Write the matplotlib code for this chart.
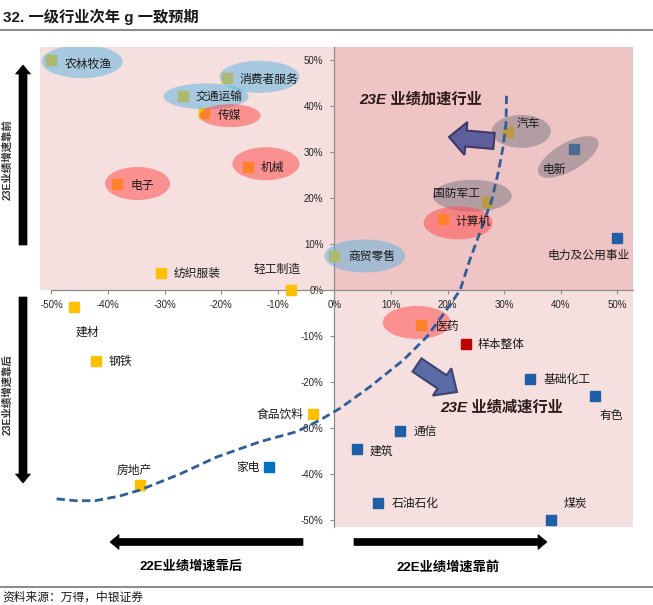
import matplotlib
matplotlib.use('Agg')
import matplotlib.pyplot as plt
import matplotlib.patches as mpatches
import matplotlib.transforms as mtransforms

plt.rcParams['font.family'] = ['Liberation Sans', 'Noto Sans CJK SC', 'DejaVu Sans']
plt.rcParams['axes.unicode_minus'] = False

# industries: x = 22E growth position, y = 23E growth position
names = ['农林牧渔', '消费者服务', '交通运输', '传媒', '机械', '电子', '纺织服装', '轻工制造',
         '商贸零售', '汽车', '电新', '国防军工', '计算机', '电力及公用事业',
         '建材', '钢铁', '食品饮料', '房地产', '家电',
         '医药', '样本整体', '基础化工', '有色', '通信', '建筑', '石油石化', '煤炭']
g22 = [-0.500, -0.190, -0.268, -0.231, -0.153, -0.384, -0.307, -0.077,
       0.000, 0.307, 0.423, 0.269, 0.192, 0.499,
       -0.460, -0.421, -0.038, -0.344, -0.115,
       0.153, 0.232, 0.345, 0.460, 0.116, 0.039, 0.077, 0.383]
g23 = [0.500, 0.460, 0.422, 0.385, 0.268, 0.230, 0.038, 0.000,
       0.074, 0.344, 0.307, 0.192, 0.154, 0.114,
       -0.038, -0.155, -0.270, -0.424, -0.384,
       -0.077, -0.117, -0.193, -0.230, -0.307, -0.346, -0.462, -0.500]
kind = ['y', 'y', 'y', 'y', 'y', 'y', 'y', 'y',
        'y', 'y', 'b', 'y', 'y', 'b',
        'y', 'y', 'y', 'y', 'c',
        'y', 'r', 'b', 'b', 'b', 'b', 'b', 'b']

# dividing curve
curve_x = [-0.491, -0.458, -0.423, -0.380, -0.344, -0.273, -0.208, -0.132, -0.067, -0.026,
           0.010, 0.063, 0.122, 0.163, 0.198, 0.222, 0.239, 0.263, 0.278, 0.289, 0.298, 0.303, 0.304]
curve_y = [-0.454, -0.458, -0.458, -0.448, -0.435, -0.400, -0.363, -0.330, -0.308, -0.283,
           -0.257, -0.210, -0.152, -0.102, -0.043, 0.000, 0.065, 0.145, 0.196, 0.254, 0.312, 0.362, 0.428]

ticks = [-0.5, -0.4, -0.3, -0.2, -0.1, 0, 0.1, 0.2, 0.3, 0.4, 0.5]
tick_labels = ['-50%', '-40%', '-30%', '-20%', '-10%', '0%', '10%', '20%', '30%', '40%', '50%']

colors = {'y': '#FFC000', 'b': '#1F5FA8', 'c': '#0070C0', 'r': '#C00000'}

# label offsets in pixels from the marker (dx, dy downwards, ha)
label_pos = {
    '农林牧渔': (13, 5, 'left'), '消费者服务': (12.6, 1.7, 'left'), '交通运输': (13, 1.6, 'left'),
    '传媒': (13.7, 2.7, 'left'), '机械': (13, 1.3, 'left'), '电子': (13, 1.3, 'left'),
    '纺织服装': (13, 1.6, 'left'), '轻工制造': (-14.3, -20, 'center'), '商贸零售': (14, 0.7, 'left'),
    '汽车': (8, -7.7, 'left'), '电新': (-31, 21.7, 'left'), '国防军工': (-6.7, -7.7, 'right'),
    '计算机': (12.7, 2.4, 'left'), '电力及公用事业': (-28.7, 18.3, 'center'),
    '建材': (12.7, 25.6, 'center'), '钢铁': (12.7, 1, 'left'), '食品饮料': (-9, 1, 'right'),
    '房地产': (-5.7, -14, 'center'), '家电': (-9.7, 1.6, 'right'), '医药': (15, 2, 'left'),
    '样本整体': (12.3, 1.3, 'left'), '基础化工': (14, 1, 'left'), '有色': (4.6, 20, 'left'),
    '通信': (13.3, 2, 'left'), '建筑': (12.6, 2.7, 'left'), '石油石化': (13.7, 1.3, 'left'),
    '煤炭': (12.7, -16, 'left'),
}

# highlight ellipses: name -> (color, dx, dy, width, height, angle) in pixels
blue_e, red_e, gray_e = ('#5AB4E0', 0.5), ('#FF4F4F', 0.55), ('#787882', 0.5)
ellipses = {
    '农林牧渔': (blue_e, 30.6, 1.6, 81, 33, 0), '消费者服务': (blue_e, 32.6, -1.6, 80, 32, 0),
    '交通运输': (blue_e, 23.3, 0.5, 85, 26, 0), '传媒': (red_e, 26.3, 2.7, 61, 23, 0),
    '机械': (red_e, 18, -3, 67, 33, 0), '电子': (red_e, 20.4, -0.7, 65, 33, 0),
    '商贸零售': (blue_e, 30.3, 0, 81, 33, 0), '汽车': (gray_e, 13, -0.4, 59, 33, 0),
    '电新': (gray_e, -5.7, 8.2, 68, 28, 30), '国防军工': (gray_e, -14.5, -5.9, 79, 32, 0),
    '计算机': (red_e, 15, 3.7, 69, 33, 0), '医药': (red_e, -4.3, -3, 68, 33, 0),
}

W, H = 653, 605
fig = plt.figure(figsize=(W / 100, H / 100), dpi=100)
ax = fig.add_axes([40 / W, 78 / H, 593 / W, 480 / H])
x0, x1 = -0.5203, 0.5274
y0, y1 = -0.5152, 0.5283
ax.set_xlim(x0, x1)
ax.set_ylim(y0, y1)
ax.patch.set_alpha(0)

light, dark = '#F5DFDF', '#EFC4C5'
ax.add_patch(mpatches.Rectangle((x0, 0), -x0, y1, color=light, lw=0, zorder=0))
ax.add_patch(mpatches.Rectangle((0, 0), x1, y1, color=dark, lw=0, zorder=0))
ax.add_patch(mpatches.Rectangle((0, y0), x1, -y0, color=light, lw=0, zorder=0))

for sp in ['top', 'right']:
    ax.spines[sp].set_visible(False)
ax.spines['left'].set_position(('data', 0))
ax.spines['bottom'].set_position(('data', 0))
ax.spines['bottom'].set_bounds(-0.5, x1)
for sp in ['left', 'bottom']:
    ax.spines[sp].set_color('#8C8C8C')
    ax.spines[sp].set_linewidth(0.9)
ax.set_xticks(ticks)
ax.set_xticklabels(tick_labels)
ax.set_yticks(ticks)
ax.set_yticklabels(tick_labels)
ax.tick_params(axis='both', direction='out', length=3, width=0.8, color='#8C8C8C',
               labelsize=7, labelcolor='#262626')
ax.tick_params(axis='x', pad=4.5)
ax.tick_params(axis='y', pad=5)

# markers
for n, x, y, k in zip(names, g22, g23, kind):
    ax.plot(x, y, marker='s', ms=7.2, color=colors[k], mec=colors[k], ls='none', zorder=3)

# ellipses (sized in pixels, anchored at the marker)
idx = {n: i for i, n in enumerate(names)}
for n, (ce, dx, dy, w, h, ang) in ellipses.items():
    i = idx[n]
    tr = mtransforms.Affine2D().translate(dx, -dy) + \
        mtransforms.ScaledTranslation(g22[i], g23[i], ax.transData)
    ax.add_patch(mpatches.Ellipse((0, 0), w, h, angle=ang, facecolor=ce[0], alpha=ce[1],
                                  lw=0, transform=tr, zorder=4))

ax.plot(curve_x, curve_y, color='#2F5E99', lw=2, ls=(0, (3, 1.6)), zorder=5)

for n, x, y in zip(names, g22, g23):
    dx, dy, ha = label_pos[n]
    ax.annotate(n, (x, y), xytext=(dx, -dy), textcoords='offset pixels', ha=ha, va='center',
                fontsize=8.5, color='#1A1A1A', zorder=6)

# pixel transform (origin top-left)
pix = mtransforms.Affine2D().scale(1, -1).translate(0, H).scale(1 / 100) + fig.dpi_scale_trans


def block_arrow(xa, ya, xb, yb, w, hw, hl, fc, ec, lw):
    fig.add_artist(mpatches.FancyArrow(xa, ya, xb - xa, yb - ya, width=w, head_width=hw,
                                       head_length=hl, length_includes_head=True,
                                       facecolor=fc, edgecolor=ec, linewidth=lw, transform=pix,
                                       zorder=7))


block_arrow(494, 141, 449, 137, 16, 33, 17, '#5F5E9C', '#3D3A66', 1.5)
block_arrow(417, 365, 457, 392, 16, 33, 18, '#5A6BA8', '#3D4470', 1.5)
block_arrow(23, 245, 23, 65, 8, 15, 9, 'black', 'black', 0.5)
block_arrow(23, 297, 23, 483, 8, 15, 9, 'black', 'black', 0.5)
block_arrow(303, 542, 110, 542, 7, 15, 9, 'black', 'black', 0.5)
block_arrow(354, 542, 547, 542, 7, 15, 9, 'black', 'black', 0.5)


def ftext(x, y, s, **kw):
    fig.text(x / W, 1 - y / H, s, **kw)


ftext(421, 99, '23E 业绩加速行业', ha='center', va='center', fontsize=11, fontweight='bold',
      fontstyle='italic', color='#2B1A1A', zorder=8)
ftext(502, 407, '23E 业绩减速行业', ha='center', va='center', fontsize=11, fontweight='bold',
      fontstyle='italic', color='#2B1A1A', zorder=8)
ftext(191, 567, '22E业绩增速靠后', ha='center', va='center', fontsize=9.5, fontweight='bold')
ftext(448, 567, '22E业绩增速靠前', ha='center', va='center', fontsize=9.5, fontweight='bold')
ftext(7, 160, '23E业绩增速靠前', ha='center', va='center', fontsize=7.5, fontweight='bold',
      rotation=90, color='#333333')
ftext(7, 395, '23E业绩增速靠后', ha='center', va='center', fontsize=7.5, fontweight='bold',
      rotation=90, color='#333333')
ftext(3, 17, '32. 一级行业次年 g 一致预期', ha='left', va='center', fontsize=11,
      fontweight='bold', color='#1A1A1A')
ftext(2, 598, '资料来源：万得，中银证券', ha='left', va='center', fontsize=8.5,
      fontstyle='italic', color='#1A1A1A')

fig.add_artist(plt.Line2D([0, W], [30, 30], color='#808080', lw=1.3, transform=pix))
fig.add_artist(plt.Line2D([0, W], [587, 587], color='#808080', lw=1.3, transform=pix))

fig.savefig('out.png', dpi=100, facecolor='white')
